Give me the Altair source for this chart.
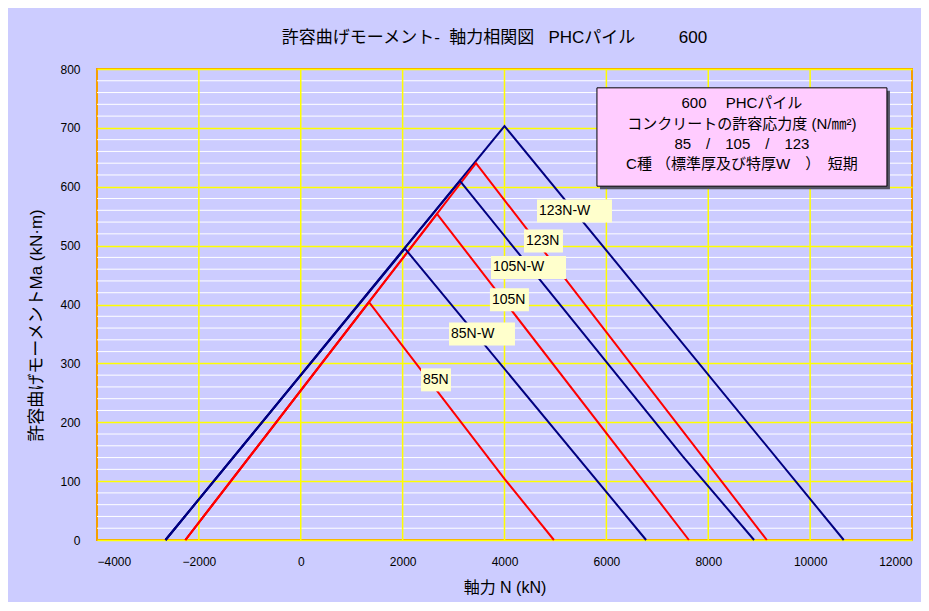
import altair as alt
import pandas as pd

# ---- data ----
series_names = ["123N-W", "123N", "105N-W", "105N", "85N-W", "85N"]
series_colors = ["#000080", "#FF0000", "#000080", "#FF0000", "#000080", "#FF0000"]

n_123W = [-2655, 4000, 10660]
m_123W = [0, 703, 0]
n_123 = [-2265, 3440, 9150]
m_123 = [0, 640, 0]
n_105W = [-2655, 3125, 7500, 8900]
m_105W = [0, 610, 142, 0]
n_105 = [-2265, 2675, 7620]
m_105 = [0, 554, 0]
n_85W = [-2655, 2045, 6780]
m_85W = [0, 495, 0]
n_85 = [-2265, 1340, 4000, 4970]
m_85 = [0, 404, 104, 0]

# label anchors (centre of each label box) and their box widths in px
label_text = ["123N-W", "123N", "105N-W", "105N", "85N-W", "85N"]
label_n = [5374, 4765, 4471, 4097, 3558, 2655]
label_m = [559, 508, 463, 408, 350, 272]
label_wpx = [75, 39, 75, 39, 66, 30]

NB = "\u00a0"
legend_lines = ["600　" + NB + "PHCパイル", "コンクリートの許容応力度 (N/㎜²)",
                "85　/　105　/　123", "C種 （標準厚及び特厚W　）　短期"]
legend_box_n = [5815, 11508]
legend_box_m = [601, 768]
legend_text_n = 8661
legend_text_m = [742, 706, 673, 638]

x_ticks = [-4000, -2000, 0, 2000, 4000, 6000, 8000, 10000, 12000]
x_grid = [-2000, 0, 2000, 4000, 6000, 8000, 10000]
y_ticks = [0, 100, 200, 300, 400, 500, 600, 700, 800]
y_minor = [v for v in range(20, 800, 20) if v % 100 != 0]

title_text = ("許容曲げモーメント-" + NB * 2 + "軸力相関図" + NB * 3 + "PHCパイル"
              + "\u3000\u3000" + NB * 2 + "600")

W, H = 815, 471
DX = 16000 / W   # N per px
DY = 800 / H     # M per px

FONT = "Liberation Sans, Noto Sans CJK JP"

rows = []
for name, ns, ms in zip(series_names,
                        [n_123W, n_123, n_105W, n_105, n_85W, n_85],
                        [m_123W, m_123, m_105W, m_105, m_85W, m_85]):
    for i, (n, m) in enumerate(zip(ns, ms)):
        rows.append({"series": name, "i": i, "N": n, "M": m})
lines_df = pd.DataFrame(rows)

lab_df = pd.DataFrame({
    "text": label_text,
    "N": label_n,
    "M": label_m,
    "x0": [n - w * DX / 2 for n, w in zip(label_n, label_wpx)],
    "x1": [n + w * DX / 2 for n, w in zip(label_n, label_wpx)],
    "y0": [m - 11.5 * DY for m in label_m],
    "y1": [m + 11.5 * DY for m in label_m],
    "tx": [n - w * DX / 2 + 2 * DX for n, w in zip(label_n, label_wpx)],
})

box_df = pd.DataFrame({"x0": [legend_box_n[0]], "x1": [legend_box_n[1]],
                       "y0": [legend_box_m[0]], "y1": [legend_box_m[1]]})
shadow_df = pd.DataFrame({"x0": [legend_box_n[0] + 3 * DX], "x1": [legend_box_n[1] + 3 * DX],
                          "y0": [legend_box_m[0] - 3 * DY], "y1": [legend_box_m[1] - 3 * DY]})
leg_df = pd.DataFrame({"text": legend_lines, "N": [legend_text_n] * 4, "M": legend_text_m})

xscale = alt.Scale(domain=[-4000, 12000], nice=False, zero=False)
yscale = alt.Scale(domain=[0, 800], nice=False)

xaxis = alt.Axis(values=x_ticks, format="d", title="軸力 N (kN)", grid=False,
                 domain=False, ticks=False, labelOverlap=False,
                 labelFont=FONT, labelFontSize=12, labelColor="#000000", labelPadding=16,
                 titleFont=FONT, titleFontSize=16, titleFontWeight="normal",
                 titleColor="#000000", titlePadding=12)
yaxis = alt.Axis(values=y_ticks, title="許容曲げモーメントMa (kN·m)", grid=True,
                 gridColor="#FFFF00", gridWidth=1.5,
                 domain=False, ticks=False, labelOverlap=False,
                 labelFont=FONT, labelFontSize=12, labelColor="#000000", labelPadding=17,
                 titleFont=FONT, titleFontSize=17, titleFontWeight="normal",
                 titleColor="#000000", titlePadding=14, titleY=256)

minor = alt.Chart(pd.DataFrame({"v": y_minor})).mark_rule(color="#FFFFFF", strokeWidth=1).encode(
    y=alt.Y("v:Q", scale=yscale, axis=yaxis))
vgrid = alt.Chart(pd.DataFrame({"v": x_grid})).mark_rule(color="#FFFF00", strokeWidth=1.5).encode(
    x=alt.X("v:Q", scale=xscale, axis=xaxis))

lines = alt.Chart(lines_df).mark_line(strokeWidth=2).encode(
    x=alt.X("N:Q", scale=xscale, axis=xaxis),
    y=alt.Y("M:Q", scale=yscale, axis=yaxis),
    color=alt.Color("series:N", scale=alt.Scale(domain=series_names, range=series_colors), legend=None),
    order=alt.Order("i:Q"),
)

lab_rect = alt.Chart(lab_df).mark_rect(color="#FFFFCC").encode(
    x="x0:Q", x2="x1", y="y0:Q", y2="y1")
lab_txt = alt.Chart(lab_df).mark_text(align="left", baseline="middle", font=FONT,
                                      fontSize=14, color="#000000").encode(
    x="tx:Q", y="M:Q", text="text:N")

shadow = alt.Chart(shadow_df).mark_rect(color="#555566").encode(
    x="x0:Q", x2="x1", y="y0:Q", y2="y1")
box = alt.Chart(box_df).mark_rect(fill="#FFCCFF", stroke="#000000", strokeWidth=1).encode(
    x="x0:Q", x2="x1", y="y0:Q", y2="y1")
leg_txt = alt.Chart(leg_df).mark_text(align="center", baseline="middle", font=FONT,
                                      fontSize=15, color="#000000").encode(
    x="N:Q", y="M:Q", text="text:N")

chart = alt.layer(minor, vgrid, lines, lab_rect, lab_txt, shadow, box, leg_txt).properties(
    width=W, height=H,
    title=alt.TitleParams(text=title_text, font=FONT, fontSize=17, fontWeight="normal",
                          color="#000000", anchor="middle", dx=-10, offset=16),
    autosize=alt.AutoSizeParams(type="none"),
    padding={"left": 89, "top": 61, "right": 9, "bottom": 62},
    background="#CCCCFF",
).configure_view(fill="#CCCCFF", stroke="#F5A000", strokeWidth=2)

chart.save("out.html", embed_options={"renderer": "svg", "actions": False})
